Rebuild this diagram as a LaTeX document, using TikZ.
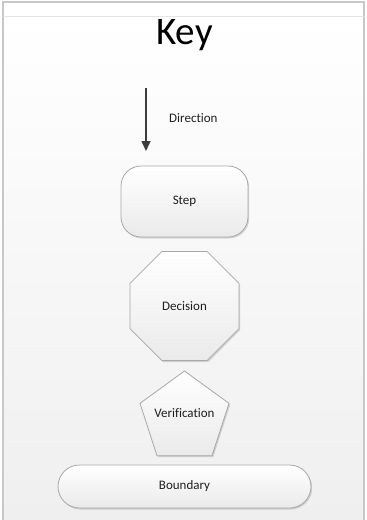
\documentclass[tikz,border=0pt]{standalone}
\usepackage{fontspec}
\setmainfont[Ligatures=NoCommon]{Carlito}
\usetikzlibrary{shapes.geometric,shadows,arrows.meta}

\definecolor{framegray}{HTML}{C8C8C8}
\definecolor{rulegray}{HTML}{E4E4E4}
\definecolor{bggray}{HTML}{EFEFEF}
\definecolor{shapeedge}{HTML}{A8A8A8}
\definecolor{shapebottom}{HTML}{EAEAEA}
\definecolor{inkgray}{HTML}{1E1E1E}
\definecolor{arrowgray}{HTML}{3C3C3C}

\tikzset{
  keyshape/.style={draw=shapeedge, line width=0.8pt, top color=white,
    bottom color=shapebottom, inner sep=0pt, text=inkgray,
    font=\fontsize{13}{15}\selectfont,
    drop shadow={shadow xshift=1.2pt, shadow yshift=-1.5pt, opacity=0.14, fill=black}},
  stepbox/.style={keyshape, rectangle, rounded corners=20pt,
    minimum width=127pt, minimum height=71pt},
  decisionbox/.style={keyshape, regular polygon, regular polygon sides=8,
    minimum size=118pt},
  verifybox/.style={keyshape, regular polygon, regular polygon sides=5,
    minimum size=93.6pt},
  boundarybox/.style={keyshape, rectangle, rounded corners=21.5pt,
    minimum width=253pt, minimum height=43pt},
  plainlabel/.style={text=inkgray, inner sep=0pt, font=\fontsize{13}{15}\selectfont},
  dirarrow/.style={draw=arrowgray, line width=1.4pt,
    -{Triangle[width=9pt,length=10pt]}},
}

\begin{document}
\begin{tikzpicture}[x=1pt, y=-1pt]
  \useasboundingbox (0,0) rectangle (367,520);
  % page background with its frame and header rule
  \fill[white] (0,0) rectangle (367,520);
  \shade[top color=white, bottom color=bggray] (3,16) rectangle (364,520);
  \draw[framegray, line width=1.5pt] (3,520) -- (3,2) -- (364,2) -- (364,520);
  \draw[rulegray, line width=1pt] (3,16) -- (364,16);

  % title
  \node[text=black, inner sep=0pt, anchor=base,
        font=\fontsize{39}{44}\selectfont] (key) at (184.5,44) {Key};

  % direction legend
  \coordinate (dirtop) at (146,88);
  \coordinate (dirtip) at (146,151);
  \draw[dirarrow] (dirtop) -- (dirtip);
  \node[plainlabel, anchor=west] (dirlabel) at (169,118) {Direction};

  % legend shapes
  \node[stepbox] (step) at (184.5,201.5) {Step};
  \node[decisionbox] (decision) at (184.5,306) {Decision};
  \node[verifybox] (verify) at (184.5,417.8) {};
  \node[plainlabel] (verifylabel) at (184.5,413) {Verification};
  \node[boundarybox] (boundary) at (184.5,486.5) {Boundary};
\end{tikzpicture}
\end{document}
